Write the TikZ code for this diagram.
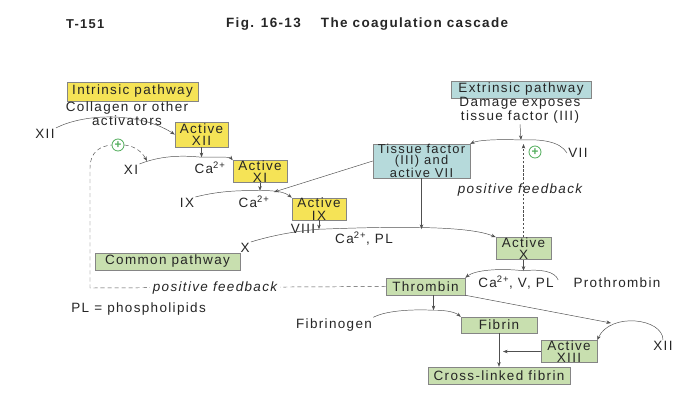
\documentclass[tikz,border=0pt]{standalone}
\usepackage{fontspec}
\setmainfont{Liberation Sans}[LetterSpace=10]
\usetikzlibrary{arrows.meta,positioning,calc}

\definecolor{intrinsic}{HTML}{F5E356}
\definecolor{extrinsic}{HTML}{B6DADB}
\definecolor{common}{HTML}{C8DFAF}
\definecolor{boxgray}{HTML}{858585}
\definecolor{linegray}{HTML}{505050}
\definecolor{plusgreen}{HTML}{52AE5C}
\definecolor{inkgray}{HTML}{262626}

\begin{document}
\begin{tikzpicture}[x=0.03cm, y=-0.03cm,
  font=\fontsize{11.5}{10.5}\selectfont, text=inkgray,
  yellowbox/.style={draw=boxgray, fill=intrinsic, align=center, inner sep=0pt},
  tealbox/.style={draw=boxgray, fill=extrinsic, align=center, inner sep=0pt},
  greenbox/.style={draw=boxgray, fill=common, align=center, inner sep=0pt},
  lbl/.style={align=center, inner sep=1pt},
  fbtext/.style={font=\fontsize{11.5}{10.5}\selectfont\itshape},
  plus/.style={circle, draw=plusgreen, line width=0.7pt, text=plusgreen, inner sep=0pt, minimum size=0.36cm, font=\fontsize{10}{10}\selectfont\bfseries},
  arr/.style={-{Stealth[length=4pt,width=3pt]}, draw=linegray, thin},
  fbline/.style={draw=linegray, thin, dash pattern=on 3.5pt off 2.5pt},
  fbarr/.style={fbline, -{Stealth[length=4pt,width=3pt]}},
  fbdots/.style={draw=linegray, thin, dash pattern=on 2pt off 1.5pt, -{Stealth[length=4pt,width=3pt]}}
]
\useasboundingbox[fill=white] (0,0) rectangle (673,410);

\node[anchor=west, font=\fontsize{11}{11}\selectfont\bfseries] (tnum) at (62,24) {T-151};
\node[anchor=west, font=\fontsize{11.5}{11}\selectfont\bfseries] (title) at (222,24) {Fig. 16-13\hspace{1.5em}The coagulation cascade};

\node[yellowbox, minimum width=3.93cm, minimum height=0.57cm] (intr) at (132.5,91.5) {Intrinsic pathway};
\node[lbl] (collagen) at (127,114) {Collagen or other\\activators};
\node[lbl] (xiia) at (45,134) {XII};
\node[yellowbox, minimum width=1.59cm, minimum height=0.75cm] (actxii) at (201.5,134.5) {Active\\XII};
\node[plus] (plus1) at (118,145) {+};
\node[lbl] (xi) at (131,170) {XI};
\node[lbl] (ca1) at (210,168) {Ca\textsuperscript{2+}};
\node[yellowbox, minimum width=1.62cm, minimum height=0.63cm] (actxi) at (260,171.5) {Active\\XI};
\node[lbl] (ix) at (187,203) {IX};
\node[lbl] (ca2) at (254,202) {Ca\textsuperscript{2+}};
\node[yellowbox, minimum width=1.62cm, minimum height=0.66cm] (actix) at (319,209) {Active\\IX};
\node[lbl] (viii) at (303,229) {VIII};
\node[lbl] (xlab) at (245,248) {X};
\node[lbl] (ca3) at (364,239) {Ca\textsuperscript{2+}, PL};
\node[greenbox, minimum width=4.35cm, minimum height=0.51cm] (common) at (167.5,261.5) {Common pathway};
\node[lbl, anchor=west] (pl) at (70,309) {PL = phospholipids};

\node[tealbox, minimum width=4.2cm, minimum height=0.5cm] (extr) at (521,89.5) {Extrinsic pathway};
\node[lbl] (damage) at (520,110) {Damage exposes\\tissue factor (III)};
\node[lbl] (vii) at (578,153) {VII};
\node[plus] (plus2) at (535,152) {+};
\node[tealbox, minimum width=2.91cm, minimum height=0.9cm, font=\fontsize{11}{9.5}\selectfont] (tf) at (421.5,161) {Tissue factor\\(III) and\\active VII};
\node[fbtext] (fbl2) at (520,190) {positive feedback};
\node[greenbox, minimum width=1.65cm, minimum height=0.63cm] (actx) at (523.5,248.5) {Active\\X};

\node[lbl] (ca4) at (516,283) {Ca\textsuperscript{2+}, V, PL};
\node[lbl] (prothr) at (617,283) {Prothrombin};
\node[greenbox, minimum width=2.37cm, minimum height=0.51cm] (thrombin) at (425.5,286.5) {Thrombin};
\node[lbl] (fibrinogen) at (334,325) {Fibrinogen};
\node[greenbox, minimum width=2.28cm, minimum height=0.48cm] (fibrin) at (499,325) {Fibrin};
\node[lbl] (xiib) at (663,346) {XII};
\node[greenbox, minimum width=1.68cm, minimum height=0.63cm] (actxiii) at (569,351.5) {Active\\XIII};
\node[greenbox, minimum width=4.26cm, minimum height=0.51cm] (crossl) at (499,375.5) {Cross-linked fibrin};

\coordinate (cxi) at ($(actxii.south)+(0,10)$);
\coordinate (cix) at ($(actxi.south)+(0,8)$);
\coordinate (tfhit) at (274,192);
\coordinate (cx) at ($(actix.south)+(0,9)$);
\coordinate (tfdown) at ($(tf.south)+(0,51)$);
\coordinate (cext) at (521,140);
\coordinate (fbhit) at (523.5,144);
\coordinate (cthr) at ($(actx.south)+(0,11)$);
\coordinate (prostart) at ($(prothr.west)+(-14,-3)$);
\coordinate (cfib) at ($(thrombin.south)+(8,15)$);
\coordinate (cxiii) at (611,323);
\coordinate (cfl) at ($(fibrin.south |- actxiii.west)+(4,0)$);
\coordinate (fbcorner) at (90,288);
\coordinate (fbtop) at (90,168);
\coordinate (xiarc) at (147,161);

\draw[arr] (xiia.north east) .. controls (85,113) and (140,112) .. (actxii.west);
\draw[arr] (actxii.south) -- (cxi);
\draw[arr] (xi.north east) .. controls (160,156) and (180,155) .. (cxi) .. controls (222,157) and (230,157) .. (actxi.north west);
\draw[arr] (actxi.south) -- (cix);
\draw[arr] (ix.north east) .. controls (215,192) and (235,190) .. (cix) .. controls (278,190) and (286,193) .. (actix.north west);
\draw[arr] (tf.west) -- (tfhit);
\draw[arr] (actix.south) -- (cx);
\draw[arr] (xlab.north east) .. controls (270,236) and (295,231) .. (cx) .. controls (400,226) and (470,226) .. (actx.north west);
\draw[arr] (tf.south) -- (tfdown);

\draw[arr] (damage.south) -- (cext);
\draw[arr] (vii.west) .. controls (560,141) and (540,139) .. (cext) .. controls (500,139) and (478,140) .. (tf.north east);
\draw[fbdots] (actx.north) -- (fbhit);

\draw[arr] (actx.south) -- (cthr);
\draw[arr] (prostart) .. controls (555,271) and (540,269) .. (cthr) .. controls (500,268) and (475,270) .. (thrombin.north east);
\draw[arr] (thrombin.south -| cfib) -- (cfib);
\draw[arr] (fibrinogen.north east) .. controls (385,311) and (410,309) .. (cfib) .. controls (445,310) and (455,312) .. (fibrin.north west);
\draw[arr] (xiib.north) .. controls (663,318) and (610,312) .. (actxiii.north east);
\draw[arr] (thrombin.south east) -- (cxiii);
\draw[arr] (fibrin.south) -- (crossl.north);
\draw[arr] (actxiii.west) -- (cfl);

\draw[fbline] (thrombin.west) -- (fbcorner) -- (fbtop) .. controls (90,152) and (100,146) .. (plus1.west);
\draw[fbarr] (plus1.east) .. controls (135,146) and (142,152) .. (xiarc);
\node[fbtext, fill=white, inner sep=2pt] (fbl1) at (215,288) {positive feedback};

\end{tikzpicture}
\end{document}
